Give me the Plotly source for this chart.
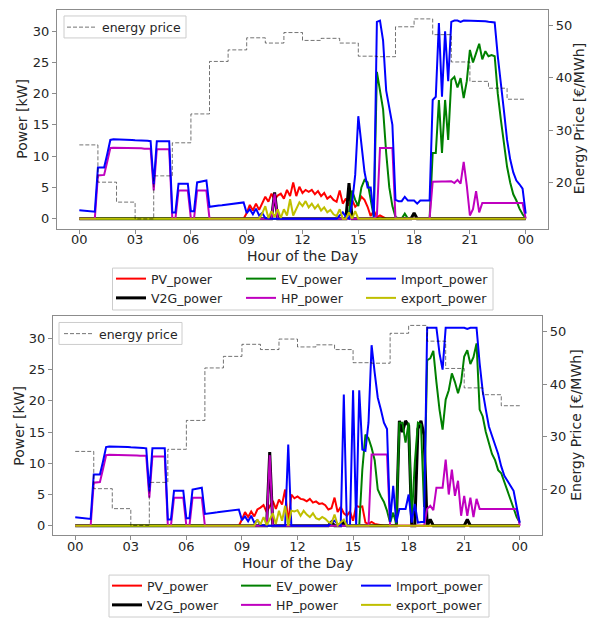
import numpy as np
import plotly.graph_objects as go

W, H = 592, 620

# time axis: 10-minute steps over one day (00:00 .. 24:00)
hours = np.arange(145) / 6.0
price_hours = list(range(25))

# hourly energy price [EUR/MWh]
price = [27.2, 20.1, 16.3, 13.1, 21.3, 27.6, 33.1, 43.1, 45.3, 47.6, 46.6, 48.6,
         47.1, 47.5, 46.6, 44.1, 44.0, 49.7, 51.2, 48.2, 43.0, 39.3, 38.0, 35.9]

# ---------------- upper chart ----------------
pv_1 = [0]*54 + [
    0.9, 2.2, 1.3, 2.4, 1.4, 2.5,
    3.5, 2.7, 4.0, 3.0, 3.7, 4.0,
    3.2, 4.6, 3.6, 5.8, 3.6, 5.1,
    4.1, 4.6, 4.3, 4.6, 3.9, 4.4,
    3.6, 4.1, 3.2, 3.6, 3.0, 2.7,
    4.5, 2.4, 3.2, 2.1, 3.0, 1.9,
    2.4, 3.5, 3.0, 1.9, 0.4, 1.3,
    0.2, 0.5, 0.2, 0, 0, 0] + [0]*43

v2g_1 = [0]*63 + [4.2] + [0]*23 + [5.7] + [0]*20 + [0.9] + [0]*36

ev_1 = [0]*84 + [
    0, 0, 0, 1.0, 4.5, 3.0,
    2.0, 5.0, 6.2, 5.8, 3.0, 0.3,
    23.5, 20.5, 17.5, 10.5, 5.0, 2.0,
    0.3, 0, 0, 0.8, 0, 0,
    0, 0, 0, 0, 0, 0,
    10.5, 10.5, 19.0, 10.5, 19.0, 12.6,
    22.2, 22.7, 21.0, 22.5, 19.3, 22.0,
    27.0, 25.0, 26.5, 28.0, 25.5, 26.8,
    26.0, 26.2, 26.0, 20.0, 15.8, 12.0,
    8.3, 5.8, 3.9, 2.9, 1.6, 0.7,
    0.1]

hp_1 = [
    0, 0, 0, 0, 0, 0,
    6.9, 6.9, 7.0, 9.1, 11.3, 11.35,
    11.35, 11.35, 11.3, 11.3, 11.3, 11.3,
    11.25, 11.25, 11.25, 11.2, 11.2, 11.2,
    4.5, 11.1, 11.1, 11.1, 11.1, 11.1,
    0, 0, 4.5, 4.5, 4.5, 4.5,
    0, 0, 4.5, 4.5, 4.5, 4.5] + [0]*21 + [4.0] + [0]*32 + [
    0.5, 11.3, 11.3, 11.3, 11.3, 11.3] + [0]*12 + [
    5.9, 5.95, 5.95, 5.95, 5.95, 5.95,
    6.0, 5.7, 6.2, 5.6, 9.1, 5.3,
    0.5, 1.5, 4.4, 1.0, 2.5, 2.5,
    2.5, 2.5, 2.5, 2.5, 2.5, 2.5,
    2.5, 2.5, 2.5, 2.5, 2.5, 2.5,
    0]

import_1 = [
    1.35, 1.3, 1.25, 1.2, 1.15, 1.1,
    8.2, 8.2, 8.2, 10.3, 12.6, 12.7,
    12.7, 12.7, 12.65, 12.65, 12.6, 12.6,
    12.55, 12.55, 12.5, 12.5, 12.45, 12.4,
    5.5, 12.4, 12.4, 12.4, 12.4, 12.4,
    1.0, 1.0, 5.6, 5.6, 5.6, 5.6,
    1.2, 1.2, 5.8, 5.9, 6.0, 6.1,
    1.9, 2.0, 2.05, 2.1, 2.15, 2.2,
    2.25, 2.3, 2.4, 2.45, 2.5, 2.6,
    0.9, 1.5, 0.7, 1.6, 0.5, 0.9,
    0.1] + [0]*23 + [
    0.5, 1.0, 0.3, 0, 2.5, 7.0,
    16.4, 12.0, 7.5, 5.0, 5.0, 0.3,
    31.5, 31.7, 28.5, 20.5, 17.6, 15.0,
    3.0, 2.8, 2.8, 3.5, 2.9, 2.9,
    2.9, 2.4, 2.9, 2.9, 2.9, 2.9,
    19.0, 19.5, 31.3, 19.5, 30.0, 22.0,
    31.5, 31.7, 31.7, 31.5, 31.7, 31.7,
    31.7, 31.7, 31.7, 31.7, 31.7, 31.6,
    31.5, 31.5, 31.4, 26.0, 21.0, 17.2,
    12.6, 9.5, 7.4, 6.1, 5.5, 4.8,
    0.8]

export_1 = [0]*54 + [
    0, 0, 0, 0, 0, 0.8,
    2.0, 0.1, 1.2, 0.3, 1.5, 0.1,
    1.5, 0.5, 3.1, 0.5, 1.5, 2.6,
    2.0, 2.8, 1.8, 2.4, 1.6, 2.2,
    1.3, 1.8, 1.0, 1.4, 0.7, 0.4,
    1.5, 0, 0, 1.0, 0, 1.2] + [0]*55

# ---------------- lower chart ----------------
pv_2 = [0]*54 + [
    1.0, 2.2, 1.4, 2.3, 1.5, 2.6,
    2.9, 3.3, 2.2, 3.2, 4.0, 2.7,
    4.2, 3.4, 5.8, 0.3, 5.0, 4.4,
    4.7, 4.3, 4.2, 3.9, 4.3, 3.7,
    3.9, 3.5, 3.6, 3.3, 2.6, 2.8,
    4.5, 2.2, 3.0, 2.0, 1.6, 2.3,
    0.8, 3.2, 3.0, 3.1, 0.5, 0.3,
    0.6, 0.3, 0.2, 0, 0, 0] + [0]*43

v2g_2 = [0]*63 + [11.8] + [0]*19 + [0.6] + [0]*3 + [0.5] + [0]*17 + [
    16.8, 15.0, 16.8,
    16.0, 0, 0, 15.5, 16.8, 14.5,
    0, 1.0, 0, 0, 0, 0,
    0, 0, 0, 0, 0, 0,
    0, 1.0, 0, 0, 0, 0] + [0]*13

ev_2 = [0]*90 + [
    0, 0, 0, 9.0, 14.6, 14.0,
    12.5, 10.5, 5.8, 4.7, 3.8, 2.4,
    0.5, 2.1, 0.3, 16.5, 16.5, 13.3,
    16.5, 1.0, 10.0, 16.5, 16.2, 3.0,
    26.5, 26.8, 28.0, 23.0, 18.6, 15.4,
    20.2, 21.7, 24.4, 23.0, 21.2, 23.0,
    27.1, 28.1, 25.9, 27.0, 29.2, 18.6,
    17.5, 15.0, 13.0, 11.5, 10.5, 8.9,
    8.4, 6.9, 5.5, 4.2, 2.8, 1.4,
    0.5]

hp_2 = hp_1[:42] + [0]*21 + [11.3] + [0]*32 + [
    11.4, 11.4, 11.4, 11.4, 11.4, 11.4] + [0]*12 + [
    2.7, 3.2, 2.5, 6.1, 6.1, 6.1,
    10.6, 5.0, 9.0, 4.8, 7.2, 1.6,
    4.8, 1.6, 4.5, 1.4, 4.3, 2.7,
    2.7, 2.7, 2.7, 2.7, 2.7, 2.7,
    2.7, 2.7, 2.7, 2.7, 2.7, 2.7,
    0]

import_2 = import_1[:60] + [
    0.1, 0, 0, 0, 0, 0,
    0, 0, 0, 13.0, 0, 0,
    0, 0, 0, 0, 0, 0,
    0, 0, 0, 0, 0, 0.5,
    0.8, 0.3, 0, 21.0, 0, 0,
    21.7, 0, 21.7, 12.2, 12.0, 16.5,
    28.9, 24.5, 20.5, 18.6, 16.5, 15.5,
    0.6, 6.4, 0.5, 2.7, 2.7, 2.7,
    5.0, 0.5, 3.5, 0.5, 0.6, 0.6,
    31.7, 31.7, 31.7, 31.7, 27.6, 25.0,
    31.7, 31.7, 31.6, 31.7, 31.7, 31.6,
    31.7, 31.5, 31.7, 31.7, 31.7, 26.0,
    21.5, 18.6, 15.9, 14.4, 13.0, 11.5,
    9.5, 8.0, 7.2, 6.3, 5.6, 3.0,
    0.5]

export_2 = [0]*54 + [
    0, 0, 0, 0, 0, 1.0,
    0.2, 1.4, 0.1, 1.0, 2.0, 0.3,
    2.4, 0.8, 3.2, 0, 2.4, 2.3,
    2.5, 1.6, 2.4, 1.8, 1.4, 2.0,
    1.2, 1.0, 1.4, 1.1, 0.6, 0.4,
    1.8, 0.1, 0.5, 1.0, 0, 0] + [0]*55

names = ["PV_power", "V2G_power", "EV_power", "HP_power", "Import_power", "export_power"]
colors = ["#ff0000", "#000000", "#008000", "#bf00bf", "#0000ff", "#bfbf00"]
widths = [2, 3, 2, 2, 2, 2]
# legend column of each series (matplotlib ncol=3 fills column by column)
col_of = [0, 0, 1, 1, 2, 2]

FONT = "DejaVu Sans"
TXT = "#262626"
FRAME = "#8c8c8c"


def fx(px):
    return px / W


def fy(py):
    return 1 - py / H


fig = go.Figure()

panels = [
    dict(series=[pv_1, v2g_1, ev_1, hp_1, import_1, export_1], xa="x", ya="y", ya2="y2",
         legs=["legend", "legend2", "legend3", "legend4"]),
    dict(series=[pv_2, v2g_2, ev_2, hp_2, import_2, export_2], xa="x2", ya="y3", ya2="y4",
         legs=["legend5", "legend6", "legend7", "legend8"]),
]

for p in panels:
    for name, vals, c, w, col in zip(names, p["series"], colors, widths, col_of):
        fig.add_trace(go.Scatter(x=hours, y=vals, mode="lines", name=name,
                                 line=dict(color=c, width=w),
                                 xaxis=p["xa"], yaxis=p["ya"], legend=p["legs"][col + 1]))
    fig.add_trace(go.Scatter(x=price_hours, y=price + [price[-1]], mode="lines",
                             name="energy price", line_shape="hv",
                             line=dict(color="rgba(0,0,0,0.55)", width=1, dash="4px,2px"),
                             xaxis=p["xa"], yaxis=p["ya2"], legend=p["legs"][0]))

tick_font = dict(family=FONT, size=13, color=TXT)
common = dict(showline=True, linecolor=FRAME, linewidth=1.2, mirror=True, ticks="outside",
              ticklen=4, tickcolor=FRAME, showgrid=False, zeroline=False, tickfont=tick_font,
              automargin=False)
xticks = dict(tickvals=[0, 3, 6, 9, 12, 15, 18, 21, 24],
              ticktext=["00", "03", "06", "09", "12", "15", "18", "21", "00"],
              ticklabelstandoff=-5)

fig.update_layout(
    width=W, height=H, margin=dict(l=0, r=0, t=0, b=0),
    paper_bgcolor="white", plot_bgcolor="white", showlegend=True,
    font=dict(family=FONT, color=TXT),
    xaxis=dict(domain=[fx(57), fx(548)], anchor="y", range=[-1.2, 25.2], **xticks, **common),
    yaxis=dict(domain=[fy(229), fy(10)], anchor="x", range=[-1.6, 33.4], dtick=5, **common),
    yaxis2=dict(overlaying="y", side="right", anchor="x", range=[11.25, 52.9],
                tickvals=[20, 30, 40, 50], **common),
    xaxis2=dict(domain=[fx(53), fx(542)], anchor="y3", range=[-1.2, 25.2], **xticks, **common),
    yaxis3=dict(domain=[fy(536), fy(317)], anchor="x2", range=[-1.5, 33.5], dtick=5, **common),
    yaxis4=dict(overlaying="y3", side="right", anchor="x2", range=[11.25, 52.9],
                tickvals=[20, 30, 40, 50], **common),
)

# axis titles placed by hand
titles = [
    ("Hour of the Day", 302.5, 256.5, 0),
    ("Power [kW]", 22.5, 119.5, -90),
    ("Energy Price [€/MWh]", 579, 119.5, -90),
    ("Hour of the Day", 297.5, 563.5, 0),
    ("Power [kW]", 19, 426.5, -90),
    ("Energy Price [€/MWh]", 576, 426.5, -90),
]
for text, tx, ty, ang in titles:
    fig.add_annotation(text=text, x=fx(tx), y=fy(ty), xref="paper", yref="paper",
                       showarrow=False, textangle=ang, xanchor="center", yanchor="middle",
                       font=dict(family=FONT, size=14, color=TXT))

leg_font = dict(family=FONT, size=12.5, color=TXT)
leg_style = dict(xanchor="left", yanchor="top", bgcolor="rgba(0,0,0,0)", borderwidth=0,
                 font=leg_font, itemwidth=30, tracegroupgap=0)

fig.update_layout(
    legend=dict(x=fx(62), y=fy(12.5), **leg_style),
    legend2=dict(x=fx(111), y=fy(264), **leg_style),
    legend3=dict(x=fx(241), y=fy(264), **leg_style),
    legend4=dict(x=fx(361), y=fy(264), **leg_style),
    legend5=dict(x=fx(59), y=fy(319), **leg_style),
    legend6=dict(x=fx(107), y=fy(571.5), **leg_style),
    legend7=dict(x=fx(236), y=fy(571.5), **leg_style),
    legend8=dict(x=fx(356), y=fy(571.5), **leg_style),
)

# legend frames (drawn as shapes so their size can follow the reference)
frames = [(64, 16, 186, 38), (59, 323, 182, 345),
          (112.5, 268.5, 493, 310.5), (109, 576, 489, 618)]
for x0, y0, x1, y1 in frames:
    fig.add_shape(type="rect", xref="paper", yref="paper",
                  x0=fx(x0), y0=fy(y1), x1=fx(x1), y1=fy(y0),
                  line=dict(color="#cccccc", width=1), fillcolor="rgba(255,255,255,0.8)",
                  layer="above")

# the page body keeps its default 8px margin otherwise
fig.write_html("out.html", config={"displayModeBar": False},
               post_script="document.body.style.margin='0px';")
